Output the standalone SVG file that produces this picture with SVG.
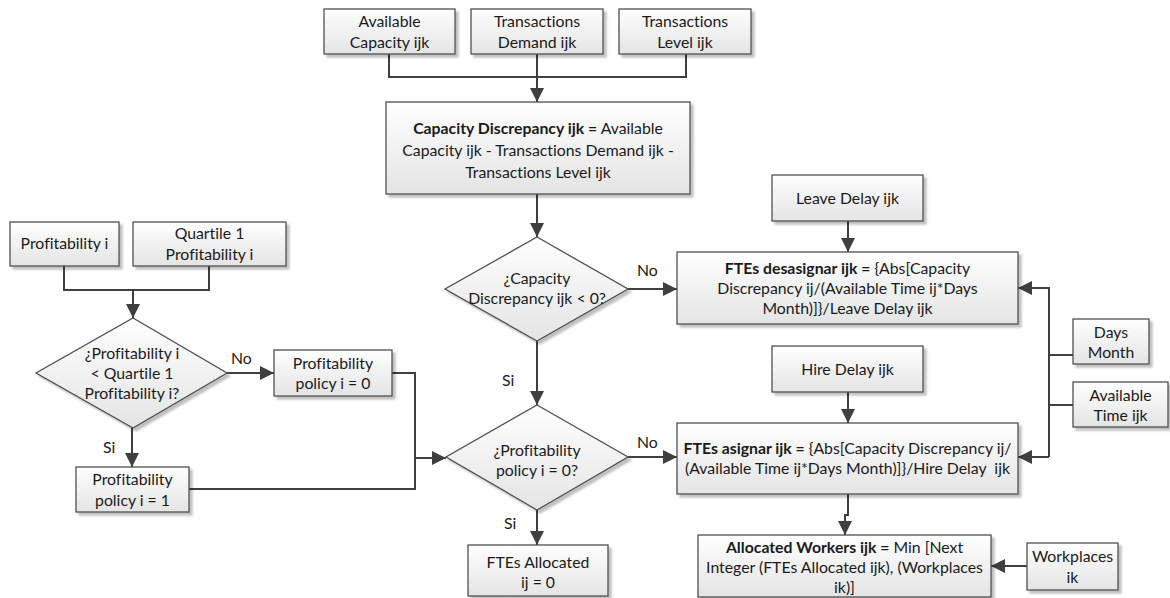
<svg xmlns="http://www.w3.org/2000/svg" width="1170" height="598" viewBox="0 0 1170 598">
  <defs>
    <linearGradient id="boxFill" x1="0" y1="0" x2="0" y2="1">
      <stop offset="0" stop-color="#ffffff"/>
      <stop offset="1" stop-color="#e4e4e4"/>
    </linearGradient>
    <filter id="shadow" x="-10%" y="-10%" width="130%" height="140%">
      <feGaussianBlur in="SourceAlpha" stdDeviation="1.2"/>
      <feOffset dx="3" dy="3" result="b"/>
      <feComponentTransfer><feFuncA type="linear" slope="0.25"/></feComponentTransfer>
      <feMerge><feMergeNode/><feMergeNode in="SourceGraphic"/></feMerge>
    </filter>
    <marker id="arrow" viewBox="0 0 12 12" refX="12" refY="6" markerWidth="7" markerHeight="7" markerUnits="strokeWidth" orient="auto">
      <path d="M0,0 L12,6 L0,12 z" fill="#3f3f3f"/>
    </marker>
  </defs>
  <style>
    .box { fill: url(#boxFill); stroke: #505050; stroke-width: 1.3; filter: url(#shadow); }
    .t { font-family: Lato, "Open Sans", "Liberation Sans", sans-serif; font-size: 15.8px; fill: #1a1a1a; text-anchor: middle; font-variant-ligatures: none; }
    .b { font-weight: bold; }
    .lbl { font-family: Lato, "Open Sans", "Liberation Sans", sans-serif; font-size: 15.8px; fill: #1a1a1a; }
    .c { fill: none; stroke: #3f3f3f; stroke-width: 2; }
    .ca { fill: none; stroke: #3f3f3f; stroke-width: 2; marker-end: url(#arrow); }
  </style>

  <!-- connectors -->
  <g id="connectors">
    <path class="c" d="M389,54 V77 H686 V54"/>
    <path class="ca" d="M537,54 V102"/>
    <path class="ca" d="M537,194 V237"/>
    <path class="ca" d="M628,289 H677"/>
    <path class="ca" d="M537,341 V405"/>
    <path class="ca" d="M628,457 H677"/>
    <path class="ca" d="M537,510 V545"/>
    <path class="ca" d="M848,221 V252"/>
    <path class="ca" d="M848,392 V423"/>
    <path class="c" d="M1073,355 H1049"/>
    <path class="c" d="M1073,405 H1049"/>
    <path class="ca" d="M1049,457 V288 H1018"/>
    <path class="ca" d="M1049,457 H1018"/>
    <path class="ca" d="M848,494 V515 H845 V535"/>
    <path class="ca" d="M1027,566 H991"/>
    <path class="c" d="M64,266 V290 H209 V266"/>
    <path class="ca" d="M133,290 V318"/>
    <path class="ca" d="M227,373 H274"/>
    <path class="ca" d="M132,428 V467"/>
    <path class="c" d="M392,373 H415 V489 H189"/>
    <path class="ca" d="M415,458 H446"/>
    <text class="lbl" x="637" y="276">No</text>
    <text class="lbl" x="502" y="386">Si</text>
    <text class="lbl" x="637" y="448">No</text>
    <text class="lbl" x="504" y="529">Si</text>
    <text class="lbl" x="231" y="364">No</text>
    <text class="lbl" x="103" y="453">Si</text>
  </g>

  <!-- top inputs -->
  <g id="available-capacity">
    <rect class="box" x="324" y="9" width="131" height="45"/>
    <text class="t" x="389.5" y="27">Available</text>
    <text class="t" x="389.5" y="48">Capacity ijk</text>
  </g>
  <g id="transactions-demand">
    <rect class="box" x="471" y="9" width="132" height="45"/>
    <text class="t" x="537" y="27">Transactions</text>
    <text class="t" x="537" y="48">Demand ijk</text>
  </g>
  <g id="transactions-level">
    <rect class="box" x="619" y="9" width="132" height="45"/>
    <text class="t" x="685" y="27">Transactions</text>
    <text class="t" x="685" y="48">Level ijk</text>
  </g>

  <g id="capacity-discrepancy">
    <rect class="box" x="386" y="102" width="304" height="92"/>
    <text class="t" x="538" y="134"><tspan class="b">Capacity Discrepancy ijk =</tspan> Available</text>
    <text class="t" x="538" y="156">Capacity ijk - Transactions Demand ijk -</text>
    <text class="t" x="538" y="178">Transactions Level ijk</text>
  </g>

  <g id="decision-capacity">
    <polygon class="box" points="537,237 628,289 537,341 445,289"/>
    <text class="t" x="537" y="284">¿Capacity</text>
    <text class="t" x="537" y="304">Discrepancy ijk &lt; 0?</text>
  </g>

  <g id="decision-policy">
    <polygon class="box" points="537,405 628,457 537,510 446,457"/>
    <text class="t" x="537" y="456">¿Profitability</text>
    <text class="t" x="537" y="476">policy i = 0?</text>
  </g>

  <g id="ftes-allocated-zero">
    <rect class="box" x="468" y="545" width="140" height="51"/>
    <text class="t" x="538" y="568">FTEs Allocated</text>
    <text class="t" x="538" y="588">ij = 0</text>
  </g>

  <!-- right column -->
  <g id="leave-delay">
    <rect class="box" x="772" y="175" width="151" height="46"/>
    <text class="t" x="847.5" y="204">Leave Delay ijk</text>
  </g>
  <g id="ftes-desasignar">
    <rect class="box" x="677" y="252" width="341" height="72"/>
    <text class="t" x="847.5" y="274"><tspan class="b">FTEs desasignar ijk =</tspan> {Abs[Capacity</text>
    <text class="t" x="847.5" y="294">Discrepancy ij/(Available Time ij*Days</text>
    <text class="t" x="847.5" y="314">Month)]}/Leave Delay ijk</text>
  </g>
  <g id="hire-delay">
    <rect class="box" x="772" y="346" width="151" height="46"/>
    <text class="t" x="847.5" y="375">Hire Delay ijk</text>
  </g>
  <g id="ftes-asignar">
    <rect class="box" x="677" y="423" width="341" height="71"/>
    <text class="t" x="847.5" y="454"><tspan class="b">FTEs asignar ijk =</tspan> {Abs[Capacity Discrepancy ij/</text>
    <text class="t" x="847.5" y="474" xml:space="preserve">(Available Time ij*Days Month)]}/Hire Delay  ijk</text>
  </g>
  <g id="days-month">
    <rect class="box" x="1073" y="319" width="76" height="45"/>
    <text class="t" x="1111" y="338">Days</text>
    <text class="t" x="1111" y="358">Month</text>
  </g>
  <g id="available-time">
    <rect class="box" x="1073" y="382" width="95" height="45"/>
    <text class="t" x="1120.5" y="401">Available</text>
    <text class="t" x="1120.5" y="421">Time ijk</text>
  </g>
  <g id="allocated-workers">
    <rect class="box" x="698" y="535" width="293" height="62"/>
    <text class="t" x="844.5" y="553"><tspan class="b">Allocated Workers ijk =</tspan> Min [Next</text>
    <text class="t" x="844.5" y="573">Integer (FTEs Allocated ijk), (Workplaces</text>
    <text class="t" x="844.5" y="593">ik)]</text>
  </g>
  <g id="workplaces">
    <rect class="box" x="1027" y="543" width="91" height="47"/>
    <text class="t" x="1072.5" y="562">Workplaces</text>
    <text class="t" x="1072.5" y="583">ik</text>
  </g>

  <!-- left branch -->
  <g id="profitability">
    <rect class="box" x="10" y="222" width="109" height="44"/>
    <text class="t" x="64.5" y="249">Profitability i</text>
  </g>
  <g id="quartile-profitability">
    <rect class="box" x="133" y="222" width="153" height="44"/>
    <text class="t" x="209.5" y="239">Quartile 1</text>
    <text class="t" x="209.5" y="260">Profitability i</text>
  </g>
  <g id="decision-profitability">
    <polygon class="box" points="133,318 227,373 133,428 36,373"/>
    <text class="t" x="132" y="359">¿Profitability i</text>
    <text class="t" x="132" y="379">&lt; Quartile 1</text>
    <text class="t" x="132" y="399">Profitability i?</text>
  </g>
  <g id="policy-zero">
    <rect class="box" x="274" y="350" width="118" height="46"/>
    <text class="t" x="333" y="369">Profitability</text>
    <text class="t" x="333" y="389">policy i = 0</text>
  </g>
  <g id="policy-one">
    <rect class="box" x="76" y="467" width="113" height="45"/>
    <text class="t" x="132.5" y="485">Profitability</text>
    <text class="t" x="132.5" y="506">policy i = 1</text>
  </g>
</svg>
